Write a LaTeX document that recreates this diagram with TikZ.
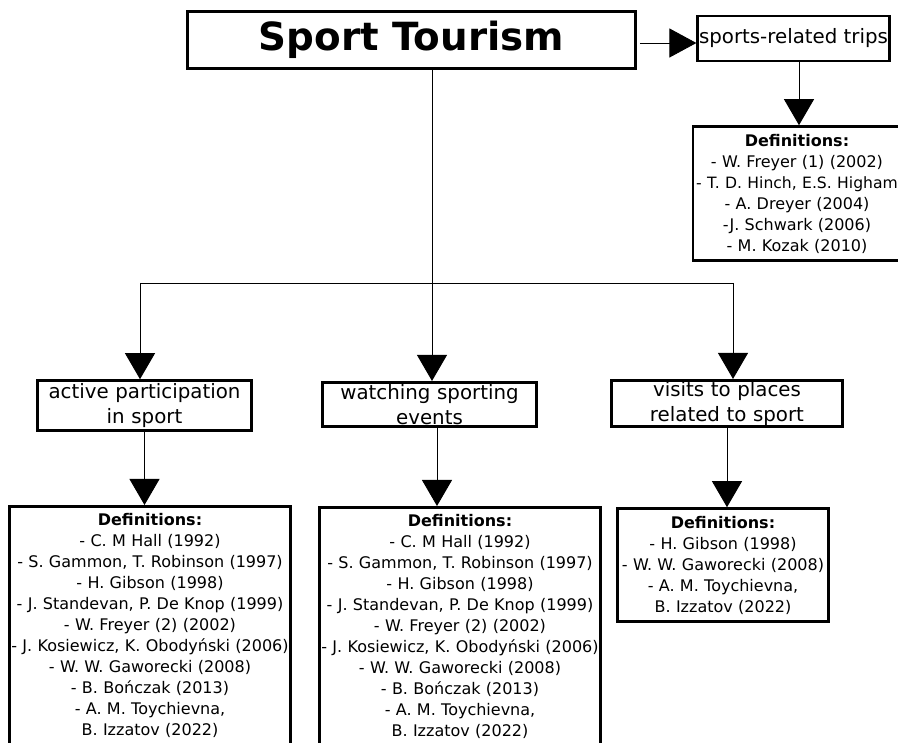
\documentclass[tikz,border=0pt]{standalone}
\usepackage{fontspec}
\setmainfont{DejaVu Sans}
\usetikzlibrary{arrows.meta}
\newcommand{\midfont}{\fontsize{19.8}{25}\selectfont}
\newcommand{\deffont}{\fontsize{16}{21}\selectfont}
\begin{document}
\begin{tikzpicture}[x=1pt,y=-1pt,
  box/.style={draw, line width=2.6pt, align=center, inner sep=0pt},
  midbox/.style={box, font=\midfont},
  defbox/.style={box, font=\deffont},
  line/.style={line width=0.9pt},
  conn/.style={line width=0.9pt, -{Triangle[width=30pt,length=26pt]}}]
\useasboundingbox (0,0) rectangle (898,743);

% top
\node[box, minimum width=448pt, minimum height=57pt,
      font=\bfseries\fontsize{38.8}{44}\selectfont] (top) at (411.5,40) {Sport Tourism};
\node[midbox, line width=2.2pt, minimum width=192pt, minimum height=45pt] (trips) at (793.5,38.5) {sports-related trips};
\node[defbox, text width=208pt, minimum height=134pt] (defT) at (797,193.5)
  {\textbf{Definitions:}\\
   - W. Freyer (1) (2002)\\
   {\fontsize{15.6}{21}\selectfont - T. D. Hinch, E.S. Higham}\hspace*{4pt}\\
   - A. Dreyer (2004)\\
   -J. Schwark (2006)\\
   - M. Kozak (2010)};

% second row
\node[midbox, text width=214pt, minimum height=50pt] (active) at (144.5,405.5) {active participation\\in sport};
\node[midbox, text width=214pt, minimum height=44.5pt] (watch) at (429.5,404.5) {watching sporting\\events};
\node[midbox, text width=231pt, minimum height=46.5pt] (visits) at (727,403.5) {visits to places\\related to sport};

% definitions
\node[defbox, anchor=north, text width=281pt, inner ysep=7pt] (defA) at (150,505)
  {\textbf{Definitions:}\\
   - C. M Hall (1992)\\
   - S. Gammon, T. Robinson (1997)\\
   - H. Gibson (1998)\\
   - J. Standevan, P. De Knop (1999)\\
   - W. Freyer (2) (2002)\\
   - J. Kosiewicz, K. Obodyński (2006)\\
   - W. W. Gaworecki (2008)\\
   - B. Bończak (2013)\\
   - A. M. Toychievna,\\
   B. Izzatov (2022)\\[4pt]\mbox{}};
\node[defbox, anchor=north, text width=281pt, inner ysep=7pt] (defB) at (460,506)
  {\textbf{Definitions:}\\
   - C. M Hall (1992)\\
   - S. Gammon, T. Robinson (1997)\\
   - H. Gibson (1998)\\
   - J. Standevan, P. De Knop (1999)\\
   - W. Freyer (2) (2002)\\
   - J. Kosiewicz, K. Obodyński (2006)\\
   - W. W. Gaworecki (2008)\\
   - B. Bończak (2013)\\
   - A. M. Toychievna,\\
   B. Izzatov (2022)\\[4pt]\mbox{}};
\node[defbox, text width=211pt, minimum height=113pt] (defC) at (723,565)
  {\textbf{Definitions:}\\
   - H. Gibson (1998)\\
   - W. W. Gaworecki (2008)\\
   - A. M. Toychievna,\\
   B. Izzatov (2022)};

% connectors
\coordinate (jl) at (140,283);
\coordinate (jc) at (432,283);
\coordinate (jr) at (733,283);
\draw[line] (top.south -| jc) -- (jc);
\draw[line] (jl) -- (jr);
\draw[conn] (jl) -- (jl |- active.north);
\draw[conn] (jc) -- (jc |- watch.north);
\draw[conn] (jr) -- (jr |- visits.north);
\draw[conn, shorten <=3pt, -{Triangle[width=29pt,length=27pt]}] ([yshift=-3pt]top.east) -- ([yshift=-3pt]top.east -| trips.west);
\draw[conn] ([xshift=5.5pt]trips.south) -- ([xshift=5.5pt]trips.south |- defT.north);
\draw[conn] (active.south) -- (active.south |- defA.north);
\draw[conn] ([xshift=7.5pt]watch.south) -- ([xshift=7.5pt]watch.south |- defB.north);
\draw[conn] (visits.south) -- (visits.south |- defC.north);
\end{tikzpicture}
\end{document}
